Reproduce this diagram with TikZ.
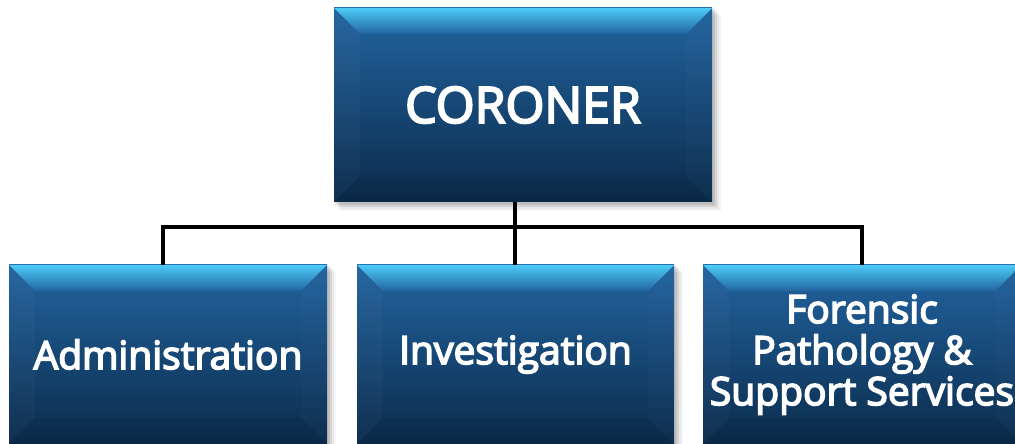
\documentclass[tikz,border=0pt]{standalone}
\usepackage{fontspec}
\setmainfont{Open Sans}
\newfontfamily\semib[FakeBold=4]{Open Sans}
\definecolor{bevtop}{HTML}{4CCBF7}
\definecolor{boxA}{HTML}{2264A0}
\definecolor{boxB}{HTML}{1E5184}
\definecolor{boxC}{HTML}{0B2B4B}
\tikzset{
  orgbox/.style={minimum width=#1, text=white, align=center, inner sep=0pt},
  link/.style={line width=4.5pt, draw=black},
}
\newcommand{\bevelbox}[5]{%
  \foreach \s/\o in {9/0.04,7/0.06,5/0.08,3/0.10}{
    \fill[black, opacity=\o] (#1+\s-2,#2-\s) rectangle (#3+\s,#4-\s+2);
  }
  \shade[top color=boxA, middle color=boxB, bottom color=boxC] (#1,#2) rectangle (#3,#4);
  \shade[top color=bevtop, bottom color=boxA] (#1,#4) -- (#3,#4) -- (#3-#5,#4-#5) -- (#1+#5,#4-#5) -- cycle;
  \fill[white, opacity=0.025] (#1,#4) -- (#1+#5,#4-#5) -- (#1+#5,#2+#5) -- (#1,#2) -- cycle;
  \fill[white, opacity=0.015] (#3,#4) -- (#3-#5,#4-#5) -- (#3-#5,#2+#5) -- (#3,#2) -- cycle;
  \fill[black, opacity=0.06] (#1,#2) -- (#1+#5,#2+#5) -- (#3-#5,#2+#5) -- (#3,#2) -- cycle;
}
\begin{document}
\begin{tikzpicture}[x=1pt,y=1pt]
\useasboundingbox (0,0) rectangle (1015,444);
\bevelbox{334}{242}{712}{436}{26}
\bevelbox{9}{0}{327}{179}{26}
\bevelbox{357}{0}{674}{179}{26}
\bevelbox{703}{0}{1021}{179}{26}
\node[orgbox=378pt, minimum height=194pt, font=\fontsize{50}{52}\selectfont\semib] (cor) at (523,339) {CORONER};
\node[orgbox=318pt, minimum height=179pt, font=\fontsize{39}{41}\selectfont\semib] (adm) at (168,89.5) {Administration};
\node[orgbox=317pt, minimum height=179pt, font=\fontsize{39}{41}\selectfont\semib] (inv) at (515.5,89.5) {Investigation};
\node[orgbox=318pt, minimum height=179pt, font=\fontsize{39}{41}\selectfont\semib] (for) at (862,89.5) {Forensic\\Pathology \&\\Support Services};
\coordinate (bus) at (515,217);
\coordinate (admtop) at ([xshift=-5pt]adm.north);
\draw[link] (cor.south -| bus) -- (inv.north -| bus);
\draw[link] (admtop) |- (bus) -| (for.north);
\end{tikzpicture}
\end{document}
